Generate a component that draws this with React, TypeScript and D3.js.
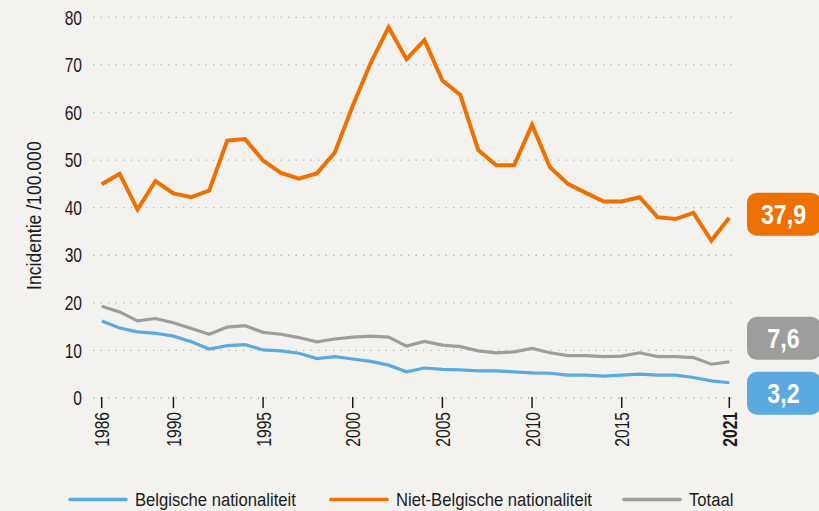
import React from "react";
import * as d3 from "d3";

const years: number[] = d3.range(1986, 2022);

const belgisch: number[] = [
  16.2, 14.7, 13.9, 13.6, 13.0, 11.8, 10.3, 11.0, 11.2, 10.1,
  9.9, 9.4, 8.3, 8.7, 8.2, 7.7, 6.9, 5.5, 6.3, 6.0,
  5.9, 5.7, 5.7, 5.5, 5.3, 5.2, 4.8, 4.8, 4.6, 4.8,
  5.0, 4.8, 4.8, 4.3, 3.6, 3.2,
];

const nietBelgisch: number[] = [
  44.9, 47.1, 39.6, 45.6, 43.0, 42.2, 43.6, 54.1, 54.4, 49.9,
  47.3, 46.1, 47.2, 51.6, 61.4, 70.4, 77.9, 71.2, 75.2, 66.7,
  63.7, 52.1, 48.9, 48.9, 57.4, 48.5, 45.0, 43.1, 41.3, 41.3,
  42.2, 38.0, 37.6, 38.9, 33.1, 37.9,
];

const totaal: number[] = [
  19.3, 18.1, 16.2, 16.7, 15.8, 14.6, 13.4, 14.9, 15.2, 13.8,
  13.4, 12.7, 11.8, 12.4, 12.8, 13.0, 12.8, 10.9, 11.9, 11.1,
  10.8, 9.9, 9.5, 9.7, 10.4, 9.5, 8.9, 8.9, 8.7, 8.8,
  9.5, 8.7, 8.7, 8.5, 7.1, 7.6,
];

const yTicks: number[] = [0, 10, 20, 30, 40, 50, 60, 70, 80];
const xTickYears: number[] = [1986, 1990, 1995, 2000, 2005, 2010, 2015, 2021];

const seriesNames: string[] = ["Belgische nationaliteit", "Niet-Belgische nationaliteit", "Totaal"];
const badgeLabels: string[] = ["3,2", "37,9", "7,6"];

const COLORS = { blue: "#5AAAE0", orange: "#ED7000", grey: "#9D9D9C" };
const FONT = "'Liberation Sans', Arial, sans-serif";
const INK = "#1a1a1a";

function CText(props: {
  x: number;
  y: number;
  rotate?: number;
  sx: number;
  size: number;
  anchor?: "start" | "middle" | "end";
  bold?: boolean;
  fill?: string;
  dy?: string;
  children: React.ReactNode;
}) {
  const { x, y, rotate = 0, sx, size, anchor = "start", bold, fill = INK, dy, children } = props;
  return (
    <text
      transform={`translate(${x},${y}) rotate(${rotate}) scale(${sx},1)`}
      textAnchor={anchor}
      fontSize={size}
      fontWeight={bold ? "bold" : "normal"}
      fill={fill}
      dy={dy}
    >
      {children}
    </text>
  );
}

export default function App() {
  const W = 819;
  const H = 511;
  const x = d3.scaleLinear().domain([1986, 2021]).range([101.7, 729.3]);
  const y = d3.scaleLinear().domain([0, 80]).range([398, 17.3]);

  const line = d3
    .line<number>()
    .x((_, i) => x(years[i]))
    .y((d) => y(d));

  const series = [
    { name: seriesNames[0], data: belgisch, color: COLORS.blue, width: 3.2 },
    { name: seriesNames[1], data: nietBelgisch, color: COLORS.orange, width: 4 },
    { name: seriesNames[2], data: totaal, color: COLORS.grey, width: 3.2 },
  ];

  const badges = [
    { label: badgeLabels[1], color: COLORS.orange, cy: y(nietBelgisch[35]) - 3.5 },
    { label: badgeLabels[2], color: COLORS.grey, cy: y(totaal[35]) - 23.5 },
    { label: badgeLabels[0], color: COLORS.blue, cy: y(belgisch[35]) + 10.5 },
  ];

  const legendItems = [
    { name: seriesNames[0], color: COLORS.blue, x0: 70 },
    { name: seriesNames[1], color: COLORS.orange, x0: 331 },
    { name: seriesNames[2], color: COLORS.grey, x0: 624 },
  ];

  return (
    <svg
      width={W}
      height={H}
      style={{ position: "absolute", left: 0, top: 0, fontFamily: FONT }}
    >
      <rect x={0} y={0} width={W} height={H} fill="#F3F2EF" />

      {yTicks.map((t) => (
        <line
          key={"g" + t}
          x1={93}
          x2={738}
          y1={y(t)}
          y2={y(t)}
          stroke="#B5B5B3"
          strokeWidth={1.3}
          strokeDasharray="1.3 6.2"
        />
      ))}

      {yTicks.map((t) => (
        <CText key={"yl" + t} x={82} y={y(t)} dy="0.36em" anchor="end" size={20} sx={0.78}>
          {t}
        </CText>
      ))}

      <CText x={41} y={(y(0) + y(80)) / 2 + 8} rotate={-90} anchor="middle" size={20} sx={0.88}>
        Incidentie /100.000
      </CText>

      {xTickYears.map((yr) => (
        <g key={"xt" + yr}>
          <line x1={x(yr)} x2={x(yr)} y1={397} y2={408} stroke={INK} strokeWidth={1.5} />
          <CText
            x={x(yr) + 7.5}
            y={412}
            rotate={-90}
            anchor="end"
            size={20}
            sx={0.78}
            bold={yr === 2021}
          >
            {yr}
          </CText>
        </g>
      ))}

      {[series[2], series[0], series[1]].map((s) => (
        <path
          key={s.name}
          d={line(s.data) || ""}
          fill="none"
          stroke={s.color}
          strokeWidth={s.width}
          strokeLinejoin="miter"
        />
      ))}

      {badges.map((b) => (
        <g key={b.label}>
          <rect x={747} y={b.cy - 21.5} width={74} height={43} rx={10} fill={b.color} />
          <CText x={783.5} y={b.cy} dy="0.36em" anchor="middle" size={28} sx={0.83} bold fill="#fff">
            {b.label}
          </CText>
        </g>
      ))}

      {legendItems.map((l) => (
        <g key={l.name}>
          <line
            x1={l.x0}
            x2={l.x0 + 56}
            y1={499.5}
            y2={499.5}
            stroke={l.color}
            strokeWidth={3.5}
            strokeLinecap="round"
          />
          <CText x={l.x0 + 65} y={499.5} dy="0.36em" size={18.5} sx={0.9}>
            {l.name}
          </CText>
        </g>
      ))}
    </svg>
  );
}
